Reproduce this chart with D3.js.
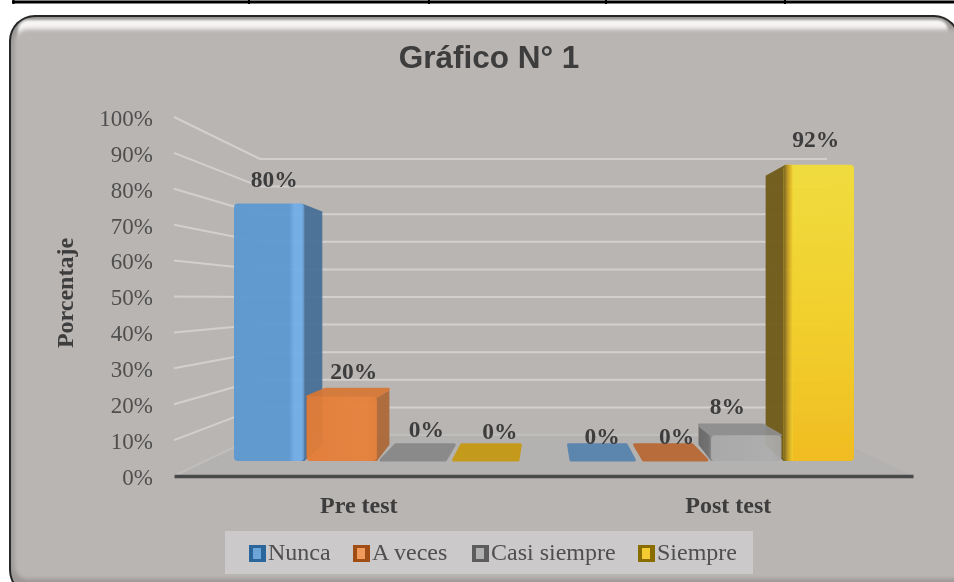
<!DOCTYPE html>
<html><head><meta charset="utf-8">
<script src="https://cdn.jsdelivr.net/npm/d3@7/dist/d3.min.js"></script>
<style>html,body{margin:0;padding:0;background:#fff}svg{display:block}</style>
</head><body>
<div id="chart"></div>
<script>
// ---- data ----
const categories = ["Pre test", "Post test"];
const seriesNames = ["Nunca", "A veces", "Casi siempre", "Siempre"];
const preTest = [80, 20, 0, 0];
const postTest = [0, 0, 8, 92];
const tickValues = [0, 10, 20, 30, 40, 50, 60, 70, 80, 90, 100];
const titleText = "Gráfico N° 1";
const yAxisTitle = "Porcentaje";

// ---- layout and styling ----
const W = 954, H = 582;
const palette = {
  "Nunca":        {lo:"#5c98d0", hi:"#70aee8", side:"#486f96", top:"#5f91bf", flat:"#5b86ad", swA:"#2c659c", swB:"#6ea5d8"},
  "A veces":      {lo:"#e57c36", hi:"#e8803a", side:"#ad6836", top:"#d67736", flat:"#b96c3b", swA:"#a04e14", swB:"#f09a5c"},
  "Casi siempre": {lo:"#a8a8a8", hi:"#aeaeae", side:"#6c6c6c", top:"#8e8e8e", flat:"#8a8a8a", swA:"#5c5c5c", swB:"#b0b0b0"},
  "Siempre":      {lo:"#f5cc22", hi:"#f5cc22", side:"#6f5a16", top:"#c49a1a", flat:"#c49a1a", swA:"#8a6d05", swB:"#f5cb30"}
};
// label nudges relative to the bar's top centre [dx, dy]
const labelNudge = {
  "Pre test":  [[5,-16],[12,-18],[12,-24],[13,-22]],
  "Post test": [[1,-17],[3,-17],[-19,-21],[-3,-18]]
};
const legendX = [249, 353, 472, 638];

const svg = d3.select("#chart").append("svg").attr("width", W).attr("height", H);
const defs = svg.append("defs");
[["soft",0.45],["b1",1],["b3",2]].forEach(([id,s]) => {
  defs.append("filter").attr("id", id).attr("x","-5%").attr("y","-5%").attr("width","110%").attr("height","110%")
    .append("feGaussianBlur").attr("stdDeviation", s);
});
const gradId = d => "g" + seriesNames.indexOf(d);
seriesNames.forEach(s => {
  const p = palette[s];
  const g = defs.append("linearGradient").attr("id", gradId(s));
  if (s === "Nunca") {
    g.attr("x1",0).attr("x2",1);
    [[0,p.lo],[.78,p.lo],[.86,p.hi],[.96,p.hi],[1,"#5f8fbf"]].forEach(([o,c]) => g.append("stop").attr("offset",o).attr("stop-color",c));
  } else if (s === "Siempre") {
    g.attr("x1",0).attr("x2",0).attr("y1",0).attr("y2",1);
    [[0,"#f4de38"],[.55,"#f5d024"],[1,"#f4bd18"]].forEach(([o,c]) => g.append("stop").attr("offset",o).attr("stop-color",c));
  } else {
    g.attr("x1",0).attr("x2",1);
    [[0,p.lo],[.85,p.hi],[1,p.lo]].forEach(([o,c]) => g.append("stop").attr("offset",o).attr("stop-color",c));
  }
});
const edge = defs.append("linearGradient").attr("id","yellowEdge").attr("x1",0).attr("x2",1);
[[0,"#75601a"],[.5,"#c9a01c"],[1,"#f5d024"]].forEach(([o,c]) => edge.append("stop").attr("offset",o).attr("stop-color",c));
const sideGray = defs.append("linearGradient").attr("id","grayEdge").attr("x1",0).attr("x2",1);
[[0,"#666"],[.6,"#6e6e6e"],[1,"#a8a8a8"]].forEach(([o,c]) => sideGray.append("stop").attr("offset",o).attr("stop-color",c));

// top table rule
const rules = svg.append("g").attr("stroke","#000");
rules.append("line").attr("x1",12).attr("x2",W).attr("y1",2).attr("y2",2).attr("stroke-width",3);
[13.5, 249, 429, 606, 785].forEach(x => rules.append("line").attr("x1",x).attr("x2",x).attr("y1",0).attr("y2",4).attr("stroke-width",2));

// bevelled panel, running off the right and bottom of the picture
const panel = svg.append("g");
panel.append("rect").attr("x",9).attr("y",15).attr("width",951).attr("height",581).attr("rx",26).attr("fill","#262626");
panel.append("rect").attr("x",11).attr("y",17).attr("width",947).attr("height",577).attr("rx",24).attr("fill","#9a9795");
panel.append("rect").attr("x",18).attr("y",20).attr("width",930).attr("height",30).attr("rx",10).attr("fill","#f6f5f4").attr("filter","url(#b1)");
panel.append("rect").attr("x",14).attr("y",29).attr("width",951).attr("height",550).attr("rx",14).attr("fill","#b9b5b3").attr("filter","url(#b3)");

const root = svg.append("g").attr("filter","url(#soft)");

// scales: front plane, back wall, bar plane, category axis
const yFront = d3.scaleLinear().domain([0,100]).range([477,118]);
const yBack  = d3.scaleLinear().domain([0,100]).range([435,159]);
const yBar   = d3.scaleLinear().domain([0,100]).range([461,139]);
const xAxisScale = d3.scaleBand().domain(categories).range([174,913]);
const xGroup = d3.scaleBand().domain(categories).range([234,854]).paddingInner(0.1325);
const xSeries = d3.scaleBand().domain(seriesNames).range([0,xGroup.bandwidth()]).paddingInner(0.03);
const backLeft = 260, backRight = 827, frontLeft = 174, frontRight = 913;
// perspective towards the vanishing point of the 3D box
const vx = 543.5, vy = 299;
const depthFlat = 0.91, depthTall = 0.925, depthBase = 0.90;
const pts = a => a.map(p => p.join(",")).join(" ");

// floor
root.append("polygon")
  .attr("points", pts([[frontLeft,yFront(0)-1],[backLeft,yBack(0)],[backRight,yBack(0)],[frontRight,yFront(0)-1]]))
  .attr("fill","#b4b2b1");

// gridlines: side wall and back wall
const grid = root.append("g").attr("fill","none").attr("stroke","#d2d0cf").attr("stroke-width",2);
tickValues.forEach(v => {
  grid.append("polyline").attr("points", pts([[frontLeft,yFront(v)-1],[backLeft,yBack(v)],[backRight,yBack(v)]]))
    .attr("opacity", v === 0 ? 0.35 : 1);
});

// axis line + tick labels
const yAxis = d3.axisLeft(yFront).tickValues(tickValues).tickFormat(d => d + "%").tickSize(0).tickPadding(21);
const yG = root.append("g").attr("transform",`translate(${frontLeft},0)`).call(yAxis);
yG.select(".domain").remove();
yG.selectAll("text").attr("font-family","'Liberation Serif',serif").attr("font-size",23).attr("fill","#4f4f4f");

const xAxis = d3.axisBottom(xAxisScale).tickSize(0).tickPadding(20);
const xG = root.append("g").attr("transform",`translate(0,${yFront(0)-1})`).call(xAxis);
xG.select(".domain").attr("stroke","#4a4a4a").attr("stroke-width",3.5);
xG.selectAll("text").attr("font-family","'Liberation Serif',serif").attr("font-weight","bold").attr("font-size",24).attr("fill","#3c3c3c");

// bars
const barsG = root.append("g");
const rows = [
  {cat:"Pre test", vals:preTest, order:[0,1,2,3]},
  {cat:"Post test", vals:postTest, order:[0,1,3,2]}
];
rows.forEach(({cat, vals, order}) => {
  order.forEach(i => {
    const s = seriesNames[i], v = vals[i], p = palette[s];
    const x0 = xGroup(cat) + xSeries(s), x1 = x0 + xSeries.bandwidth();
    const yT = yBar(v), yB = yBar(0);
    const g = barsG.append("g").attr("opacity", v > 0 ? 0.94 : 1)
      .attr("stroke-linejoin","round").attr("stroke-width",3);
    if (v === 0) {
      const a = x0 + (x0 > vx ? 4 : 1), b = x1 - (x1 < vx ? 3 : 1);
      const bk = (x) => [vx + (x - vx) * depthFlat, vy + (yB - vy) * depthBase];
      g.append("polygon").attr("points", pts([[a+1,yB-1],bk(a+1),bk(b-1),[b-1,yB-1]]))
        .attr("fill",p.flat).attr("stroke",p.flat).attr("stroke-width",3);
      return;
    }
    const bp = (x,y,k) => [vx + (x - vx) * depthTall, vy + (y - vy) * k];
    const rightSide = x1 < vx;
    const ex = rightSide ? x1 : x0;
    const inner = rightSide ? ex - 4 : ex + 4;
    const sideFill = s === "Casi siempre" ? "url(#grayEdge)" : p.side;
    g.append("polygon").attr("points", pts([[inner,yT],[ex,yT+1],bp(ex,yT+1,depthTall),bp(ex,yB,depthBase),[ex,yB],[inner,yB]]))
      .attr("fill",sideFill);
    if (yT > vy) {
      g.append("polygon").attr("points", pts([[x0+1,yT],bp(x0+1,yT,depthTall),bp(x1-1,yT,depthTall),[x1-1,yT]]))
        .attr("fill",p.top).attr("stroke",p.top);
    }
    g.append("rect").attr("x",x0).attr("y",yT).attr("width",x1-x0).attr("height",yB-yT)
      .attr("rx",4).attr("fill",`url(#${gradId(s)})`);
    if (s === "Siempre") {
      g.append("rect").attr("x",x0).attr("y",yT).attr("width",9).attr("height",yB-yT).attr("rx",2).attr("fill","url(#yellowEdge)");
    }
  });
});

// data labels
rows.forEach(({cat, vals}) => {
  vals.forEach((v,i) => {
    const s = seriesNames[i];
    const [dx,dy] = labelNudge[cat][i];
    root.append("text")
      .attr("x", xGroup(cat) + xSeries(s) + xSeries.bandwidth()/2 + dx)
      .attr("y", yBar(v) + dy)
      .attr("text-anchor","middle")
      .attr("font-family","'Liberation Serif',serif").attr("font-weight","bold").attr("font-size",23.5)
      .attr("fill","#3c3c3c").text(v + "%");
  });
});

// titles
root.append("text").attr("x",489).attr("y",68).attr("text-anchor","middle")
  .attr("font-family","'Liberation Sans',sans-serif").attr("font-weight","bold").attr("font-size",31.5)
  .attr("fill","#3c3c3c").text(titleText);
root.append("text").attr("transform","translate(73,293) rotate(-90)").attr("text-anchor","middle")
  .attr("font-family","'Liberation Serif',serif").attr("font-weight","bold").attr("font-size",24)
  .attr("fill","#3c3c3c").text(yAxisTitle);

// legend
root.append("rect").attr("x",225).attr("y",531).attr("width",528).attr("height",43).attr("fill","#cbc9ca");
seriesNames.forEach((s,i) => {
  const p = palette[s], x = legendX[i];
  root.append("rect").attr("x",x).attr("y",545).attr("width",17).attr("height",17).attr("fill",p.swA);
  root.append("rect").attr("x",x+4).attr("y",548).attr("width",8).attr("height",11).attr("fill",p.swB);
  root.append("text").attr("x",x+19).attr("y",560)
    .attr("font-family","'Liberation Serif',serif").attr("font-size",24).attr("fill","#4f4f4f").text(s);
});
</script>
</body></html>
